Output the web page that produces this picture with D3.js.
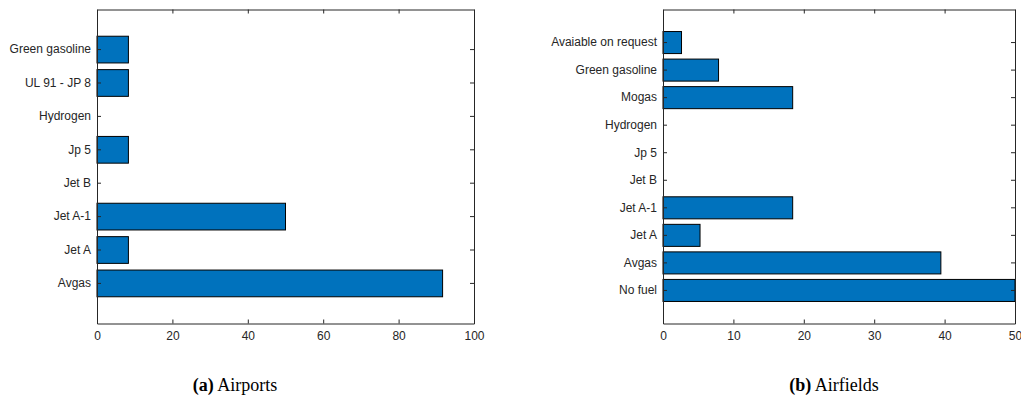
<!DOCTYPE html>
<html>
<head>
<meta charset="utf-8">
<script src="https://cdn.jsdelivr.net/npm/d3@7"></script>
<style>
  html, body { margin: 0; padding: 0; background: #fff; }
  svg { display: block; }
</style>
</head>
<body>
<svg id="chart" width="1021" height="410"></svg>
<script>
// Airports: fuel availability (%), listed bottom to top
const airportFuels = ["Avgas", "Jet A", "Jet A-1", "Jet B", "Jp 5", "Hydrogen", "UL 91 - JP 8", "Green gasoline"];
const airportShare = [91.67, 8.33, 50, 0, 8.33, 0, 8.33, 8.33];
const airportTicks = [0, 20, 40, 60, 80, 100];

// Airfields: fuel availability (%), listed bottom to top
const airfieldFuels = ["No fuel", "Avgas", "Jet A", "Jet A-1", "Jet B", "Jp 5", "Hydrogen", "Mogas", "Green gasoline", "Avaiable on request"];
const airfieldShare = [50, 39.47, 5.26, 18.42, 0, 0, 0, 18.42, 7.89, 2.63];
const airfieldTicks = [0, 10, 20, 30, 40, 50];

const captions = [
  { tag: "(a)", text: " Airports" },
  { tag: "(b)", text: " Airfields" }
];

const svg = d3.select("#chart");
const AXIS = "#262626";
const BAR = "#0072BD";
const TICK = 4;

function panel(opts) {
  const { left, right, top, bottom, cats, vals, ticks, xMax, caption, captionX } = opts;
  const g = svg.append("g");

  const x = d3.scaleLinear().domain([0, xMax]).range([left, right]);
  const y = d3.scaleBand().domain(cats).range([bottom, top])
    .paddingInner(0.2).paddingOuter(0.8);

  // bars
  g.append("g").selectAll("rect")
    .data(cats.map((c, i) => ({ c, v: vals[i] })))
    .join("rect")
    .attr("x", x(0))
    .attr("y", d => y(d.c))
    .attr("width", d => x(d.v) - x(0))
    .attr("height", y.bandwidth())
    .attr("fill", BAR)
    .attr("stroke", "#000")
    .attr("stroke-width", 1);

  const style = sel => {
    sel.select(".domain").attr("stroke", AXIS).attr("stroke-width", 1);
    sel.selectAll(".tick line").attr("stroke", AXIS).attr("stroke-width", 1);
    sel.selectAll(".tick text")
      .attr("fill", AXIS)
      .style("font-family", "'Liberation Sans', Arial, Helvetica, sans-serif")
      .style("font-size", "12px");
  };

  // bottom axis with labels
  g.append("g").attr("transform", `translate(0,${bottom})`)
    .call(d3.axisBottom(x).tickValues(ticks).tickSizeInner(-TICK).tickSizeOuter(0).tickPadding(8))
    .call(style);
  // top axis, ticks only
  g.append("g").attr("transform", `translate(0,${top})`)
    .call(d3.axisTop(x).tickValues(ticks).tickSizeInner(-TICK).tickSizeOuter(0).tickFormat(""))
    .call(style);
  // left axis with category labels
  g.append("g").attr("transform", `translate(${left},0)`)
    .call(d3.axisLeft(y).tickSizeInner(-TICK).tickSizeOuter(0).tickPadding(6))
    .call(style);
  // right axis, ticks only
  g.append("g").attr("transform", `translate(${right},0)`)
    .call(d3.axisRight(y).tickSizeInner(-TICK).tickSizeOuter(0).tickFormat(""))
    .call(style);

  // caption below the panel
  const t = svg.append("text")
    .attr("x", captionX).attr("y", 391)
    .attr("text-anchor", "middle")
    .style("font-family", "'Liberation Serif', 'Times New Roman', serif")
    .style("font-size", "18px")
    .attr("fill", "#000");
  t.append("tspan").attr("font-weight", "bold").text(caption.tag);
  t.append("tspan").text(caption.text);
}

panel({
  left: 97, right: 474, top: 9.5, bottom: 323.5,
  cats: airportFuels, vals: airportShare, ticks: airportTicks, xMax: 100,
  caption: captions[0], captionX: 235
});

panel({
  left: 663, right: 1015, top: 9.5, bottom: 323.5,
  cats: airfieldFuels, vals: airfieldShare, ticks: airfieldTicks, xMax: 50,
  caption: captions[1], captionX: 834
});
</script>
</body>
</html>
